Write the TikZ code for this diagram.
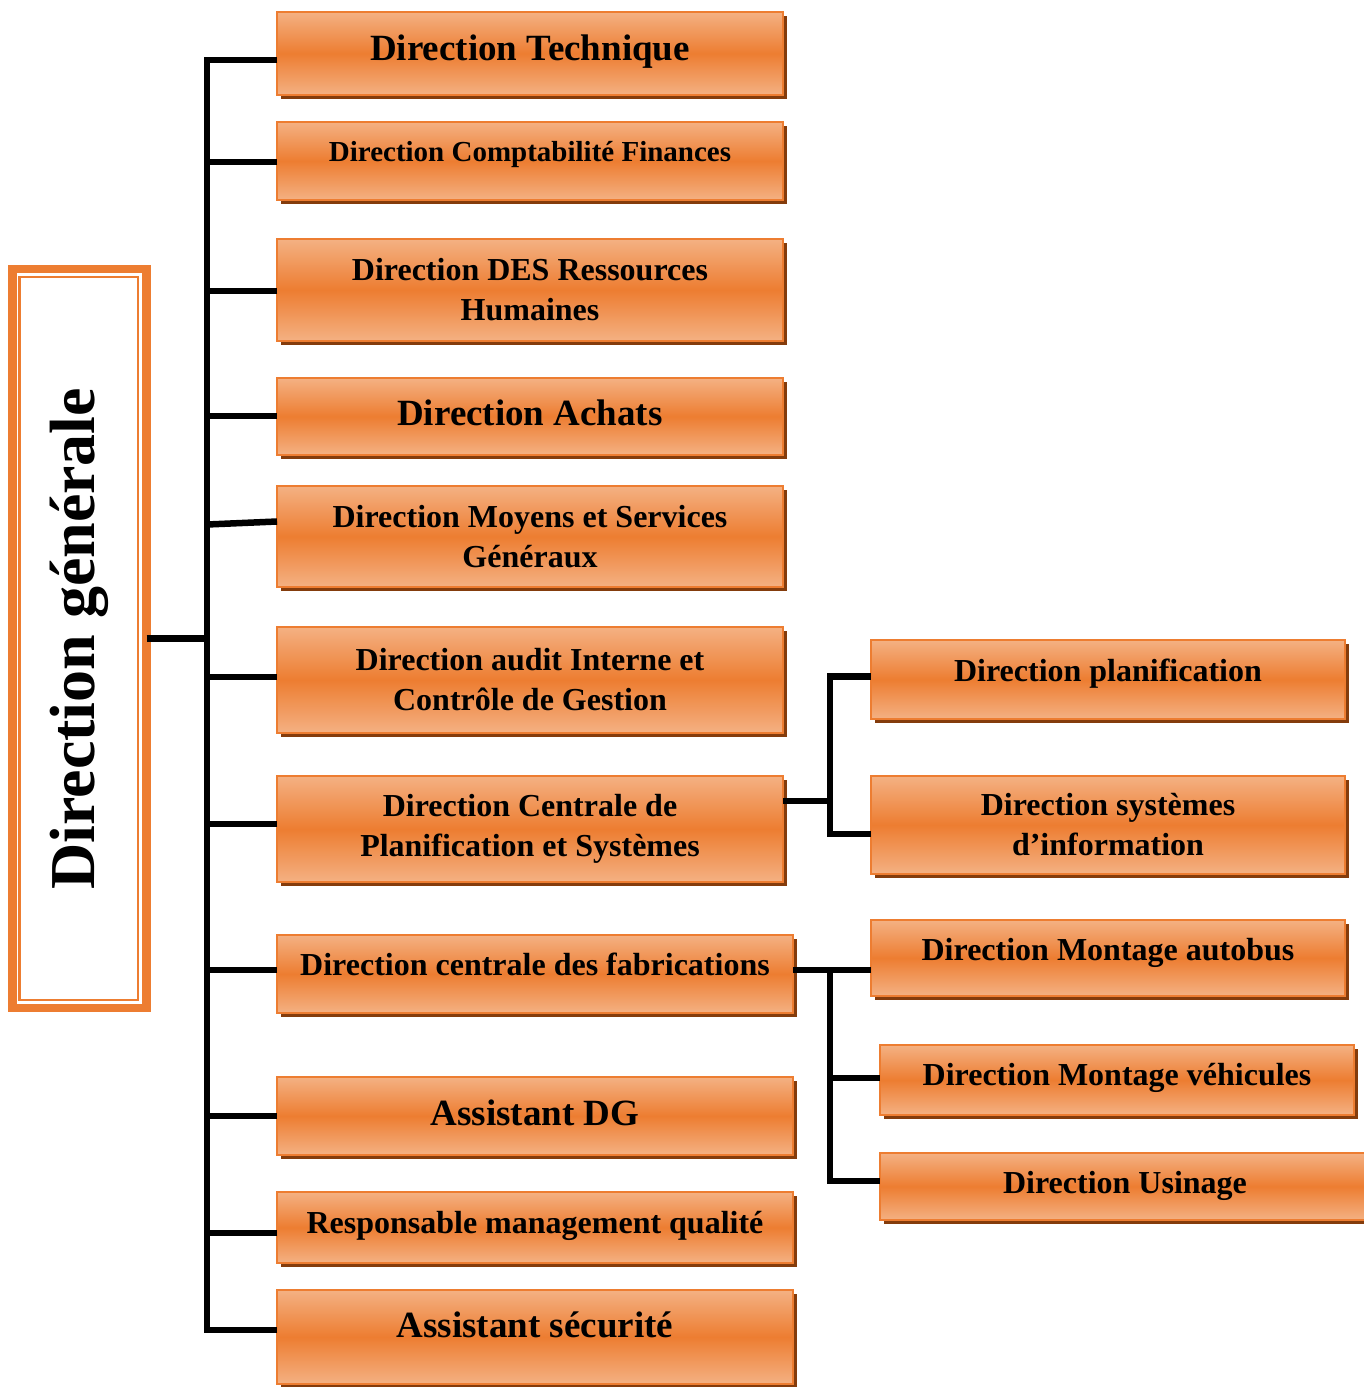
\documentclass[tikz,border=0pt]{standalone}
\usepackage{fontspec}
\setmainfont{Liberation Serif}
\usepackage{xcolor,graphicx}
\usepackage{tikz}
\usetikzlibrary{shadows}

\definecolor{dirorange}{HTML}{ED7D31}
\definecolor{dirlight}{HTML}{F4B183}
\definecolor{dirshadow}{HTML}{843C0C}

\begin{document}
\begin{tikzpicture}
[
	x = 1pt, y = -1pt,
	dir/.style = {rectangle, draw = dirorange, line width = 1.5pt, inner sep = 0pt, outer sep = 0pt, anchor = north west, align = center,
		top color = dirlight, bottom color = dirlight, middle color = dirorange,
		drop shadow = {shadow xshift = 4pt, shadow yshift = -4pt, fill = dirshadow, opacity = 1},
		font = \bfseries\fontsize{32}{40}\selectfont},
	boxsize/.style 2 args = {minimum width = #1pt, minimum height = #2pt},
	lift/.style = {text height = #1, text depth = 0pt},
	big/.style = {font = \bfseries\fontsize{37}{44}\selectfont},
	small/.style = {font = \bfseries\fontsize{29}{36}\selectfont},
	general/.style = {rectangle, draw = dirorange, line width = 8.4pt, inner sep = 0pt, outer sep = 0pt, anchor = north west,
		font = \bfseries\fontsize{64}{72}\selectfont},
	link/.style = {-, line width = 6.5pt}
]
\useasboundingbox (0,0) rectangle (1363,1387);

\node[general, boxsize = {134}{739}] (dg) at (12.5,269.2) {\rotatebox{90}{Direction générale}};
\draw[dirorange, line width = 2.4pt] ([xshift = 7pt, yshift = -8pt] dg.north west) rectangle ([xshift = -8.5pt, yshift = 8.5pt] dg.south east);

\node[dir, big, lift = 13pt, boxsize = {506}{83}] (tech) at (277,12) {Direction Technique};
\node[dir, small, lift = 0pt, boxsize = {506}{78}] (compta) at (277,122) {Direction Comptabilité Finances};
\node[dir, boxsize = {506}{102}] (rh) at (277,239) {Direction DES Ressources\\Humaines};
\node[dir, big, lift = 17pt, boxsize = {506}{77}] (achats) at (277,378) {Direction Achats};
\node[dir, boxsize = {506}{101}] (moyens) at (277,486) {Direction Moyens et Services\\Généraux};
\node[dir, boxsize = {506}{106}] (audit) at (277,627) {Direction audit Interne et\\Contrôle de Gestion};
\node[dir, boxsize = {506}{106}] (centrale) at (277,776) {Direction Centrale de\\Planification et Systèmes};
\node[dir, lift = 2pt, boxsize = {516}{78}] (fabric) at (277,935) {Direction centrale des fabrications};
\node[dir, big, lift = 18.6pt, boxsize = {516}{78}] (adg) at (277,1077) {Assistant DG};
\node[dir, lift = 11pt, boxsize = {516}{71}] (qualite) at (277,1192) {Responsable management qualité};
\node[dir, big, lift = 0pt, boxsize = {516}{94}] (securite) at (277,1290) {Assistant sécurité};

\node[dir, lift = 4pt, boxsize = {474}{79}] (planif) at (871,640) {Direction planification};
\node[dir, boxsize = {474}{98}] (sysinfo) at (871,776) {Direction systèmes\\d’information};
\node[dir, lift = 4pt, boxsize = {474}{76}] (autobus) at (871,920) {Direction Montage autobus};
\node[dir, lift = 10pt, boxsize = {474}{70}] (vehic) at (880,1045) {Direction Montage véhicules};
\node[dir, lift = 13pt, boxsize = {490}{67}] (usinage) at (880,1153) {Direction Usinage};

\coordinate (spinetop) at (207,57);
\coordinate (spinebot) at (207,1333);
\coordinate (hubA) at (830,801);
\coordinate (hubB) at (830,970);

\draw[link] (spinetop) -- (spinebot);
\draw[link] (dg.east) -- (dg.east -| spinetop);
\foreach \n/\dy in {tech/-6.5, compta/-1, rh/-1, achats/0.5, audit/3, centrale/5, fabric/4, adg/0, qualite/-5.5, securite/7}
	\draw[link] ([yshift = \dy pt] \n.west) -- ++(-70,0);
\draw[link] ([yshift = 15pt] moyens.west) -- ++(-70,3);

\draw[link] ([yshift = 28pt] centrale.east) -- (hubA);
\draw[link] ([yshift = 3pt] planif.west) -| (hubA) |- ([yshift = -9pt] sysinfo.west);

\draw[link] ([yshift = 4pt] fabric.east) -- ([yshift = -12pt] autobus.west);
\draw[link] (hubB) |- ([yshift = 5.5pt] usinage.west);
\draw[link] ([yshift = 2pt] vehic.west) -- ++(-50,0);

\end{tikzpicture}
\end{document}
